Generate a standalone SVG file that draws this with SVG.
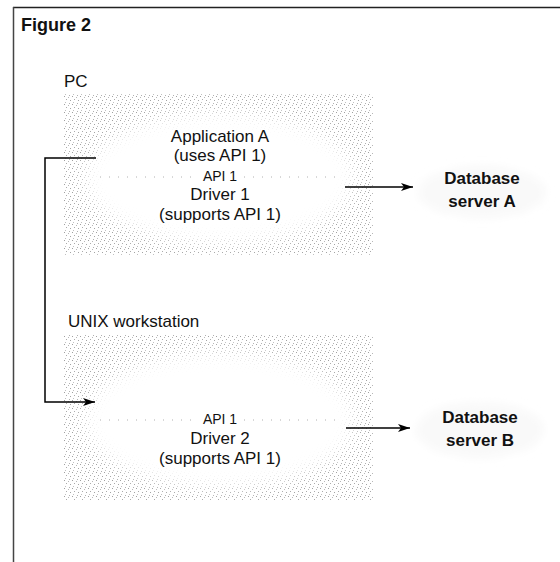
<svg xmlns="http://www.w3.org/2000/svg" width="560" height="562" viewBox="0 0 560 562">
<defs>
<pattern id="stip" width="8" height="8" patternUnits="userSpaceOnUse">
<rect width="8" height="8" fill="#fff"/>
<rect x="0" y="0" width="1" height="1" fill="#a0a0a0"/>
<rect x="4" y="1" width="1" height="1" fill="#b8b8b8"/>
<rect x="2" y="3" width="1" height="1" fill="#aaaaaa"/>
<rect x="6" y="4" width="1" height="1" fill="#a4a4a4"/>
<rect x="1" y="6" width="1" height="1" fill="#c0c0c0"/>
<rect x="5" y="7" width="1" height="1" fill="#b0b0b0"/>
</pattern>
<filter id="soft" x="-20%" y="-20%" width="140%" height="140%">
<feGaussianBlur stdDeviation="8"/>
</filter>
<filter id="soft2" x="-20%" y="-30%" width="140%" height="160%">
<feGaussianBlur stdDeviation="4"/>
</filter>
<marker id="arr" viewBox="0 0 12 8" refX="12" refY="4" markerWidth="12" markerHeight="8" markerUnits="userSpaceOnUse" orient="auto">
<path d="M0,0 L12,4 L0,8 L3,4 Z" fill="#000"/>
</marker>
<style>
.t{font-family:"Liberation Sans",Arial,sans-serif;fill:#111;text-anchor:middle}
.m{font-size:17px}
.s{font-size:14px}
.lbl{font-family:"Liberation Sans",Arial,sans-serif;font-size:17px;fill:#111}
.db{font-family:"Liberation Sans",Arial,sans-serif;font-size:17px;font-weight:bold;fill:#111;text-anchor:middle}
.ln{stroke:#000;stroke-width:1.5;fill:none}
.dot{stroke:#b0b0b0;stroke-width:1;stroke-dasharray:1 8;fill:none}
</style>
</defs>
<rect width="560" height="562" fill="#fff"/>
<g id="frame">
<line x1="13" y1="7.5" x2="560" y2="7.5" stroke="#222" stroke-width="1.5"/>
<line x1="13.5" y1="7" x2="13.5" y2="562" stroke="#444" stroke-width="1.5"/>
<text x="21" y="31" font-family="Liberation Sans,Arial,sans-serif" font-size="18" font-weight="bold" fill="#111">Figure 2</text>
</g>
<g id="pc">
<text class="lbl" x="64" y="87">PC</text>
<rect x="64" y="93" width="309" height="162" fill="url(#stip)"/>
<ellipse cx="220" cy="178" rx="134" ry="64" fill="#fff" filter="url(#soft)"/>
<line class="dot" x1="100" y1="177" x2="340" y2="177"/>
<rect x="196" y="167" width="48" height="15" fill="#fff"/>
<text class="t m" x="220" y="142">Application A</text>
<text class="t m" x="220" y="161">(uses API 1)</text>
<text class="t s" x="220" y="181">API 1</text>
<text class="t m" x="220" y="200">Driver 1</text>
<text class="t m" x="220" y="220">(supports API 1)</text>
</g>
<g id="unix">
<text class="lbl" x="68" y="327">UNIX workstation</text>
<rect x="64" y="335" width="309" height="165" fill="url(#stip)"/>
<ellipse cx="220" cy="420" rx="134" ry="66" fill="#fff" filter="url(#soft)"/>
<line class="dot" x1="100" y1="420" x2="340" y2="420"/>
<rect x="196" y="410" width="48" height="15" fill="#fff"/>
<text class="t s" x="220" y="424">API 1</text>
<text class="t m" x="220" y="444">Driver 2</text>
<text class="t m" x="220" y="464">(supports API 1)</text>
</g>
<g id="dbA">
<ellipse cx="482" cy="192" rx="64" ry="26" fill="url(#stip)" filter="url(#soft2)"/>
<text class="db" x="482" y="184">Database</text>
<text class="db" x="482" y="207">server A</text>
</g>
<g id="dbB">
<ellipse cx="480" cy="430" rx="64" ry="28" fill="url(#stip)" filter="url(#soft2)"/>
<text class="db" x="480" y="423">Database</text>
<text class="db" x="480" y="446">server B</text>
</g>
<g id="connectors">
<path class="ln" d="M96,158 H45 V402 H95" marker-end="url(#arr)"/>
<path class="ln" d="M345,187 H413" marker-end="url(#arr)"/>
<path class="ln" d="M346,428 H410" marker-end="url(#arr)"/>
</g>
</svg>
